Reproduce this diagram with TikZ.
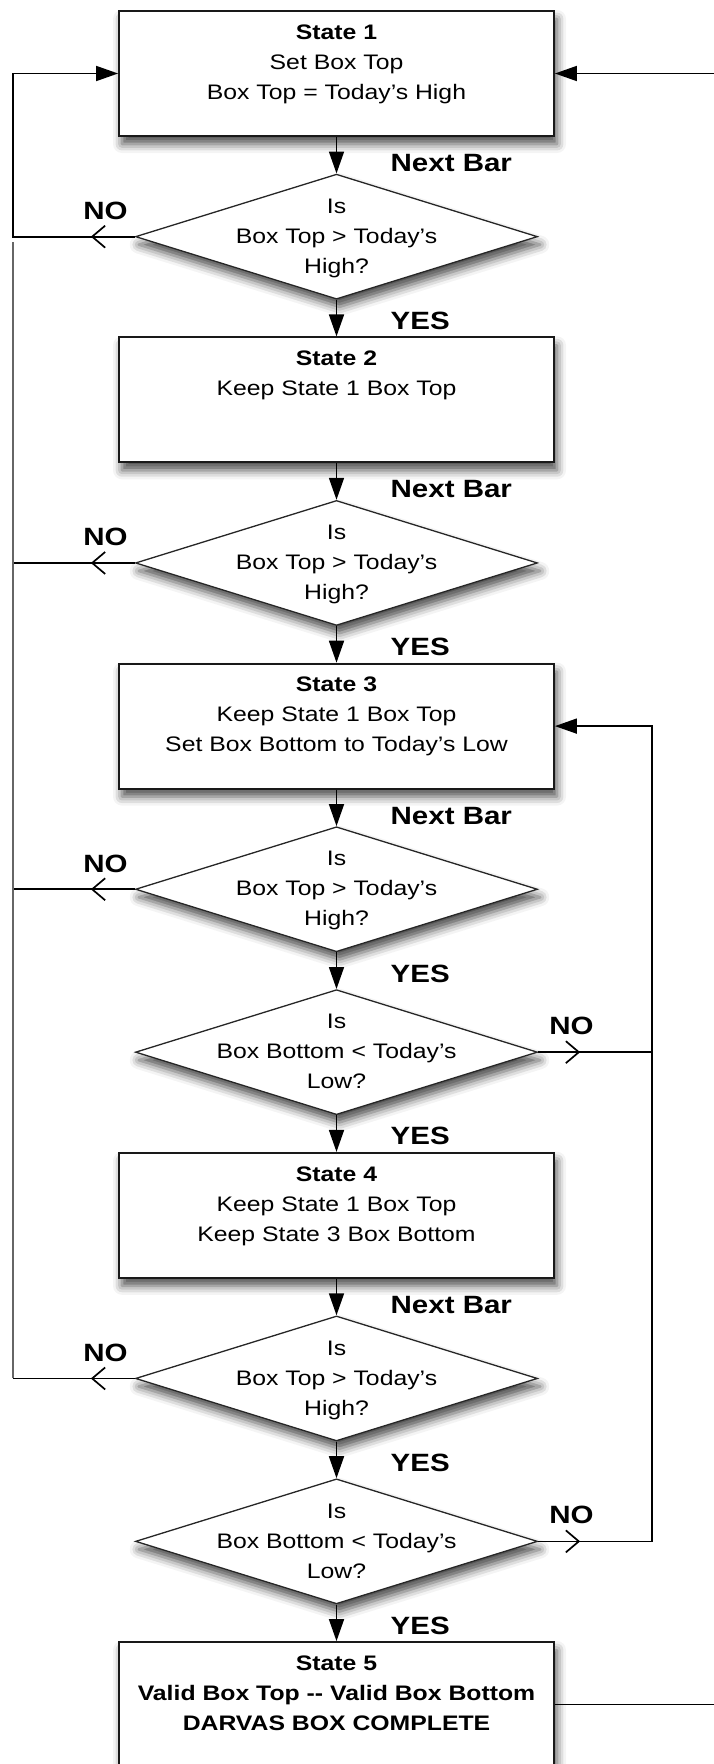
\documentclass[tikz,border=0pt]{standalone}
\usepackage{fontspec}
\setmainfont{Liberation Sans}[FakeStretch=1.18]
\usetikzlibrary{shapes.geometric, arrows.meta, positioning, shadows.blur}

\newcommand\txtfont{\fontsize{21pt}{30pt}\selectfont}
\newcommand\lblfont{\fontsize{25pt}{30pt}\selectfont\bfseries}

\begin{document}
\begin{tikzpicture}[
    x=1pt, y=-1pt,
    node distance=36.6pt,
    softshadow/.style={blur shadow={shadow xshift=3pt, shadow yshift=-8pt,
                shadow blur radius=9pt, shadow opacity=70}},
    box/.style={rectangle, draw=black!90, line width=1.8pt, fill=white,
                minimum width=435pt, minimum height=125pt, inner sep=0pt,
                align=center, font=\txtfont, execute at begin node=\strut,
                softshadow},
    decision/.style={diamond, draw=black!85, line width=1.3pt, fill=white,
                minimum width=402pt, minimum height=125pt, inner sep=0pt,
                softshadow},
    qtext/.style={align=center, font=\txtfont, execute at begin node=\strut, yshift=-4pt},
    lbl/.style={font=\lblfont},
    flow/.style={-{Triangle[length=22pt, width=15pt]}, line width=1.7pt},
    noarrow/.style={-{Straight Barb[length=13pt, width=22pt, line width=1.7pt]}, line width=1.7pt},
    back/.style={line width=1.7pt}
]
\useasboundingbox (0,0) rectangle (714,1764);
\clip (0,0) rectangle (714,1764);

% States and tests, top to bottom
\node[box] (s1) at (336.5,73.5) {\textbf{State 1}\\Set Box Top\\Box Top = Today's High\\[-16pt]\strut};
\node[decision, below=of s1, label={[qtext]center:{Is\\Box Top > Today's\\\strut High?}}] (d1) {};
\node[box, below=of d1] (s2) {\textbf{State 2}\\Keep State 1 Box Top\\\mbox{}\\[-16pt]\strut};
\node[decision, below=of s2, label={[qtext]center:{Is\\Box Top > Today's\\\strut High?}}] (d2) {};
\node[box, below=of d2] (s3) {\textbf{State 3}\\Keep State 1 Box Top\\Set Box Bottom to Today's Low\\[-16pt]\strut};
\node[decision, below=of s3, label={[qtext]center:{Is\\Box Top > Today's\\\strut High?}}] (d3) {};
\node[decision, below=of d3, label={[qtext]center:{Is\\Box Bottom < Today's\\\strut Low?}}] (d4) {};
\node[box, below=of d4] (s4) {\textbf{State 4}\\Keep State 1 Box Top\\Keep State 3 Box Bottom\\[-16pt]\strut};
\node[decision, below=of s4, label={[qtext]center:{Is\\Box Top > Today's\\\strut High?}}] (d5) {};
\node[decision, below=of d5, label={[qtext]center:{Is\\Box Bottom < Today's\\\strut Low?}}] (d6) {};
\node[box, below=of d6] (s5) {\textbf{State 5}\\\textbf{Valid Box Top -{}- Valid Box Bottom}\\\textbf{DARVAS BOX COMPLETE}\\[-16pt]\strut};

% return columns
\coordinate (lcol) at (13,242);
\coordinate (rcol) at (652,0);
\coordinate (outer) at (780,0);

% main flow
\draw[flow] (s1) -- node[lbl, pos=1, anchor=base west, xshift=50pt, yshift=2pt] {Next Bar} (d1);
\draw[flow] (d1) -- node[lbl, pos=1, anchor=base west, xshift=50pt, yshift=7pt] {YES} (s2);
\draw[flow] (s2) -- node[lbl, pos=1, anchor=base west, xshift=50pt, yshift=2pt] {Next Bar} (d2);
\draw[flow] (d2) -- node[lbl, pos=1, anchor=base west, xshift=50pt, yshift=7pt] {YES} (s3);
\draw[flow] (s3) -- node[lbl, pos=1, anchor=base west, xshift=50pt, yshift=2pt] {Next Bar} (d3);
\draw[flow] (d3) -- node[lbl, pos=1, anchor=base west, xshift=50pt, yshift=7pt] {YES} (d4);
\draw[flow] (d4) -- node[lbl, pos=1, anchor=base west, xshift=50pt, yshift=7pt] {YES} (s4);
\draw[flow] (s4) -- node[lbl, pos=1, anchor=base west, xshift=50pt, yshift=2pt] {Next Bar} (d5);
\draw[flow] (d5) -- node[lbl, pos=1, anchor=base west, xshift=50pt, yshift=7pt] {YES} (d6);
\draw[flow] (d6) -- node[lbl, pos=1, anchor=base west, xshift=50pt, yshift=7pt] {YES} (s5);

% NO branches back to state 1
\draw[flow] (d1.west) -- (d1.west -| lcol) -- (s1.west -| lcol) -- (s1.west);
\draw[back] (d2.west) -- (d2.west -| lcol);
\draw[back] (d3.west) -- (d3.west -| lcol);
\draw[back] (d5.west) -- (d5.west -| lcol);
\draw[line width=1.3pt, black!60] (d5.west -| lcol) -- (lcol);
\foreach \d in {d1, d2, d3, d5}
    \draw[noarrow] (\d.west) -- node[lbl, pos=0, anchor=base east, xshift=-3pt, yshift=17pt] {NO} ++(-44,0);

% NO branches back to state 3
\draw[back] (d4.east) -- (d4.east -| rcol);
\draw[flow] (d6.east) -- (d6.east -| rcol) -- (s3.east -| rcol) -- (s3.east);
\foreach \d in {d4, d6}
    \draw[noarrow] (\d.east) -- node[lbl, pos=0, anchor=base west, xshift=7pt, yshift=18pt] {NO} ++(42,0);

% complete box starts over
\draw[flow] (s5.east) -- (s5.east -| outer) -- (s1.east -| outer) -- (s1.east);

\end{tikzpicture}
\end{document}
